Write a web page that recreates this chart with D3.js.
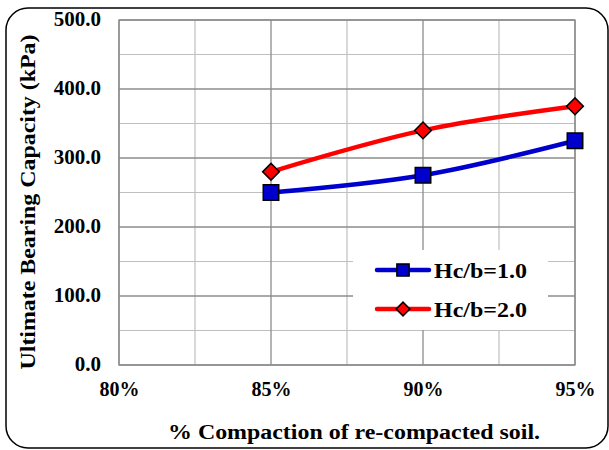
<!DOCTYPE html>
<html><head><meta charset="utf-8">
<script src="https://cdn.jsdelivr.net/npm/d3@7"></script>
<style>body{margin:0;background:#fff;} svg text{font-family:"Liberation Serif","Times New Roman","DejaVu Serif",serif;font-weight:bold;fill:#000;}</style>
</head><body>
<svg id="c" width="609" height="450"></svg>
<script>
const compaction = [85, 90, 95];
const seriesNames = ["Hc/b=1.0", "Hc/b=2.0"];
const hc1 = [250, 275, 325];
const hc2 = [280, 340, 375];
const xTicks = [80, 85, 90, 95];
const xTickLabels = ["80%", "85%", "90%", "95%"];
const yTicks = [0, 100, 200, 300, 400, 500];
const yTickLabels = ["0.0", "100.0", "200.0", "300.0", "400.0", "500.0"];

const FONT = '"Liberation Serif","Times New Roman",serif';
const svg = d3.select("#c");
const L = 119, R = 575, T = 20, B = 365;
const x = d3.scaleLinear().domain([80, 95]).range([L, R]);
const y = d3.scaleLinear().domain([0, 500]).range([B, T]);

svg.append("rect").attr("x", 6).attr("y", 8).attr("width", 602).attr("height", 440)
  .attr("rx", 22).attr("fill", "#fff").attr("stroke", "#000").attr("stroke-width", 1.5);

const g = svg.append("g");
d3.range(80, 95.01, 2.5).filter(v => v % 5 !== 0).forEach(v => {
  g.append("line").attr("x1", x(v)).attr("x2", x(v)).attr("y1", T).attr("y2", B).attr("stroke", "#bfbfbf").attr("stroke-width", 1.2);
});
d3.range(50, 500, 100).forEach(v => {
  g.append("line").attr("x1", L).attr("x2", R).attr("y1", y(v)).attr("y2", y(v)).attr("stroke", "#bfbfbf").attr("stroke-width", 1.2);
});
xTicks.forEach(v => {
  g.append("line").attr("x1", x(v)).attr("x2", x(v)).attr("y1", T).attr("y2", B).attr("stroke", "#8c8c8c").attr("stroke-width", 1.3);
});
yTicks.forEach(v => {
  g.append("line").attr("x1", L).attr("x2", R).attr("y1", y(v)).attr("y2", y(v)).attr("stroke", "#8c8c8c").attr("stroke-width", 1.3);
});
g.append("rect").attr("x", L).attr("y", T).attr("width", R - L).attr("height", B - T)
  .attr("fill", "none").attr("stroke", "#8c8c8c").attr("stroke-width", 1.3);

const xAxis = d3.axisBottom(x).tickValues(xTicks).tickFormat((d, i) => xTickLabels[i]).tickSize(0).tickPadding(0);
const xa = svg.append("g").attr("transform", `translate(0,${B + 16})`).call(xAxis).attr("font-family", FONT);
xa.select(".domain").remove();
xa.selectAll("text").attr("font-size", 20).attr("dy", "0.75em");

const yAxis = d3.axisLeft(y).tickValues(yTicks).tickFormat((d, i) => yTickLabels[i]).tickSize(0).tickPadding(0);
const ya = svg.append("g").attr("transform", `translate(101,-1)`).call(yAxis).attr("font-family", FONT);
ya.select(".domain").remove();
ya.selectAll("text").attr("font-size", 21);

svg.append("text").attr("transform", "translate(35,202) rotate(-90)").attr("text-anchor", "middle")
  .attr("font-size", 20).attr("textLength", 335).attr("lengthAdjust", "spacingAndGlyphs")
  .text("Ultimate Bearing Capacity (kPa)");
svg.append("text").attr("x", 354).attr("y", 439).attr("text-anchor", "middle")
  .attr("font-size", 20).attr("textLength", 372).attr("lengthAdjust", "spacingAndGlyphs")
  .text("% Compaction of re-compacted soil.");

const line = d3.line().x((d, i) => x(compaction[i])).y(d => y(d)).curve(d3.curveCatmullRom.alpha(0.5));
const colors = ["#0000cc", "#ff0000"];
[hc1, hc2].forEach((s, k) => {
  svg.append("path").datum(s).attr("d", line).attr("fill", "none").attr("stroke", colors[k]).attr("stroke-width", 4.5).attr("stroke-linecap", "round");
});
const sq = d3.symbol().type(d3.symbolSquare).size(240);
const dm = d3.symbol().type(d3.symbolSquare).size(140);
hc1.forEach((v, i) => {
  svg.append("path").attr("d", sq).attr("transform", `translate(${x(compaction[i])},${y(v)})`)
    .attr("fill", colors[0]).attr("stroke", "#000").attr("stroke-width", 1.5);
});
hc2.forEach((v, i) => {
  svg.append("path").attr("d", dm).attr("transform", `translate(${x(compaction[i])},${y(v)}) rotate(45)`)
    .attr("fill", colors[1]).attr("stroke", "#000").attr("stroke-width", 1.5);
});

const lg = svg.append("g");
lg.append("rect").attr("x", 353).attr("y", 250).attr("width", 195).attr("height", 80).attr("fill", "#fff");
seriesNames.forEach((n, k) => {
  const yy = 270 + k * 39;
  lg.append("line").attr("x1", 377).attr("x2", 429).attr("y1", yy).attr("y2", yy).attr("stroke", colors[k]).attr("stroke-width", 4.5).attr("stroke-linecap", "round");
  if (k === 0) lg.append("path").attr("d", d3.symbol().type(d3.symbolSquare).size(150)).attr("transform", `translate(403,${yy})`).attr("fill", colors[0]).attr("stroke", "#000").attr("stroke-width", 1.5);
  else lg.append("path").attr("d", d3.symbol().type(d3.symbolSquare).size(95)).attr("transform", `translate(403,${yy}) rotate(45)`).attr("fill", colors[1]).attr("stroke", "#000").attr("stroke-width", 1.5);
  lg.append("text").attr("x", 434).attr("y", yy + 8).attr("font-size", 22)
    .attr("textLength", 93).attr("lengthAdjust", "spacingAndGlyphs").text(n);
});
</script>
</body></html>
